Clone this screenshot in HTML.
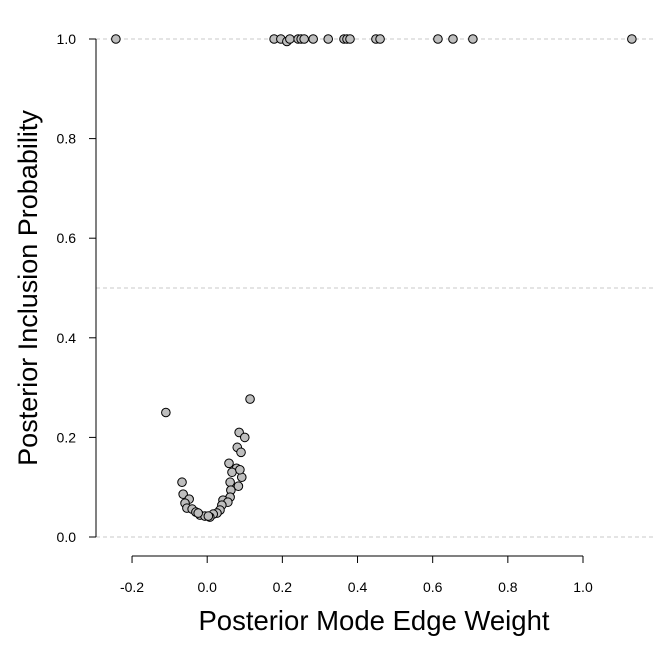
<!DOCTYPE html>
<html><head><meta charset="utf-8"><style>body{margin:0;background:#fff}svg{display:block}text{font-family:"Liberation Sans",sans-serif}</style></head>
<body>
<svg id="chart" width="672" height="672" xmlns="http://www.w3.org/2000/svg"></svg>
<script>
const topX = [-0.243,0.178,0.196,0.212,0.220,0.242,0.250,0.258,0.282,0.322,0.364,0.372,0.380,0.449,0.460,0.614,0.654,0.707,1.13];
const topY = [1,1,1,0.995,1,1,1,1,1,1,1,1,1,1,1,1,1,1,1];
const lowX = [0.114,-0.110,0.085,0.10,0.08,0.09,0.058,0.078,0.066,0.092,0.087,-0.067,0.061,0.083,0.063,-0.064,0.061,-0.048,0.042,0.055,-0.059,0.039,-0.054,-0.04,0.034,-0.03,0.026,-0.019,0.016,-0.006,0.007,-0.024,0.003];
const lowY = [0.277,0.25,0.21,0.20,0.18,0.17,0.148,0.138,0.13,0.12,0.135,0.11,0.11,0.102,0.094,0.086,0.08,0.076,0.074,0.07,0.068,0.064,0.058,0.056,0.054,0.05,0.048,0.044,0.046,0.042,0.04,0.048,0.042];
const xTicks = [-0.2,0,0.2,0.4,0.6,0.8,1.0];
const yTicks = [0,0.2,0.4,0.6,0.8,1.0];
const gridY = [0,0.5,1];
const sx = v => 207.2 + v*375.8;
const sy = v => 537 - v*498;
const svg = document.getElementById('chart');
const NS = 'http://www.w3.org/2000/svg';
function mk(tag, attrs, parent){const e=document.createElementNS(NS,tag);for(const k in attrs)e.setAttribute(k,attrs[k]);(parent||svg).appendChild(e);return e;}
gridY.forEach(v=>{const l=mk('line',{x1:96,x2:656,y1:sy(v),y2:sy(v),stroke:'#c8c8c8','stroke-dasharray':'4,3'});

});
const ya=mk('line',{x1:96,x2:96,y1:sy(0),y2:sy(1),stroke:'#000'});


yTicks.forEach(v=>{mk('line',{x1:89,x2:96,y1:sy(v),y2:sy(v),stroke:'#000'});
const t=mk('text',{x:76,y:sy(v)+5,'text-anchor':'end','font-size':14});t.textContent=v.toFixed(1);

});
const xa=mk('line',{x1:sx(-0.2),x2:sx(1),y1:556,y2:556,stroke:'#000'});


xTicks.forEach(v=>{mk('line',{x1:sx(v),x2:sx(v),y1:556,y2:563,stroke:'#000'});
const t=mk('text',{x:sx(v),y:592,'text-anchor':'middle','font-size':14});t.textContent=v.toFixed(1);

});
function pts(xs,ys){xs.forEach((x,i)=>{const c=mk('circle',{cx:sx(x),cy:sy(ys[i]),r:4.3,fill:'#bebebe',stroke:'#000','stroke-width':1});

});}
pts(topX,topY);pts(lowX,lowY);
const xt=mk('text',{x:374,y:630,'text-anchor':'middle','font-size':27.5});xt.textContent='Posterior Mode Edge Weight';


const yt=mk('text',{x:0,y:0,'text-anchor':'middle','font-size':27,transform:'translate(37,288) rotate(-90)'});yt.textContent='Posterior Inclusion Probability';


</script>
</body></html>
